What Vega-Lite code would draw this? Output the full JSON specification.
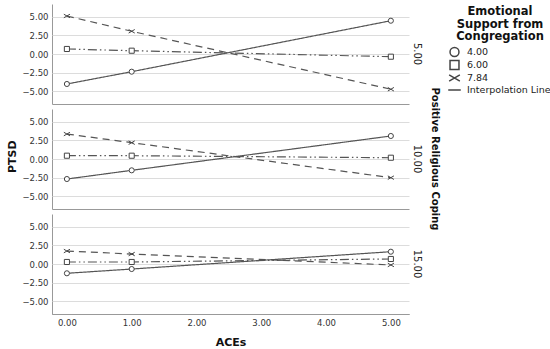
{
  "$schema": "https://vega.github.io/schema/vega-lite/v6.json",
  "padding": {"left": 6, "top": 4, "right": 0, "bottom": 0},
  "background": "white",
  "title": {"text": "PTSD", "orient": "left", "anchor": "middle", "frame": "bounds", "font": "DejaVu Sans", "fontSize": 11, "fontWeight": "bold", "color": "#111", "offset": 4, "dx": 19},
  "data": {"values": [
    {"ace": 0, "ptsd": -4.0, "support": "4.00", "prc": "5.00"},
    {"ace": 1, "ptsd": -2.36, "support": "4.00", "prc": "5.00"},
    {"ace": 5, "ptsd": 4.44, "support": "4.00", "prc": "5.00"},
    {"ace": 0, "ptsd": 0.67, "support": "6.00", "prc": "5.00"},
    {"ace": 1, "ptsd": 0.44, "support": "6.00", "prc": "5.00"},
    {"ace": 5, "ptsd": -0.36, "support": "6.00", "prc": "5.00"},
    {"ace": 0, "ptsd": 5.07, "support": "7.84", "prc": "5.00"},
    {"ace": 1, "ptsd": 3.03, "support": "7.84", "prc": "5.00"},
    {"ace": 5, "ptsd": -4.7, "support": "7.84", "prc": "5.00"},
    {"ace": 0, "ptsd": -2.67, "support": "4.00", "prc": "10.00"},
    {"ace": 1, "ptsd": -1.51, "support": "4.00", "prc": "10.00"},
    {"ace": 5, "ptsd": 3.07, "support": "4.00", "prc": "10.00"},
    {"ace": 0, "ptsd": 0.44, "support": "6.00", "prc": "10.00"},
    {"ace": 1, "ptsd": 0.44, "support": "6.00", "prc": "10.00"},
    {"ace": 5, "ptsd": 0.17, "support": "6.00", "prc": "10.00"},
    {"ace": 0, "ptsd": 3.33, "support": "7.84", "prc": "10.00"},
    {"ace": 1, "ptsd": 2.18, "support": "7.84", "prc": "10.00"},
    {"ace": 5, "ptsd": -2.49, "support": "7.84", "prc": "10.00"},
    {"ace": 0, "ptsd": -1.24, "support": "4.00", "prc": "15.00"},
    {"ace": 1, "ptsd": -0.67, "support": "4.00", "prc": "15.00"},
    {"ace": 5, "ptsd": 1.64, "support": "4.00", "prc": "15.00"},
    {"ace": 0, "ptsd": 0.27, "support": "6.00", "prc": "15.00"},
    {"ace": 1, "ptsd": 0.27, "support": "6.00", "prc": "15.00"},
    {"ace": 5, "ptsd": 0.67, "support": "6.00", "prc": "15.00"},
    {"ace": 0, "ptsd": 1.73, "support": "7.84", "prc": "15.00"},
    {"ace": 1, "ptsd": 1.33, "support": "7.84", "prc": "15.00"},
    {"ace": 5, "ptsd": -0.13, "support": "7.84", "prc": "15.00"}
  ]},
  "facet": {
    "row": {
      "field": "prc",
      "type": "ordinal",
      "sort": ["5.00", "10.00", "15.00"],
      "title": "Positive Religious Coping",
      "header": {
        "labelOrient": "right",
        "titleOrient": "right",
        "labelAngle": 90,
        "titleAngle": 90,
        "labelFont": "DejaVu Sans",
        "labelFontSize": 10,
        "labelColor": "#222",
        "labelPadding": 3,
        "titleFont": "DejaVu Sans",
        "titleFontSize": 10,
        "titleFontWeight": "bold",
        "titleColor": "#111",
        "titlePadding": -2
      }
    }
  },
  "spacing": {"row": 5},
  "spec": {
    "width": 357,
    "height": 100,
    "layer": [
      {
        "mark": {"type": "line", "color": "#555", "strokeWidth": 1.2},
        "encoding": {
          "x": {
            "field": "ace", "type": "quantitative",
            "scale": {"domain": [-0.23, 5.28], "nice": false, "zero": false},
            "axis": {"values": [0, 1, 2, 3, 4, 5], "format": ".2f", "title": "ACEs", "grid": false, "ticks": false, "labelPadding": 4, "titlePadding": 10}
          },
          "y": {
            "field": "ptsd", "type": "quantitative",
            "scale": {"domain": [-6.67, 6.67], "nice": false, "zero": false},
            "axis": {
              "values": [-6.67, -5, -2.5, 0, 2.5, 5],
              "labelExpr": "datum.value < -6 ? '' : format(datum.value, '.2f')",
              "labelOverlap": false,
              "labelSeparation": 0,
              "labelBound": false,
              "labelFlush": false,
              "title": null,
              "ticks": false,
              "grid": true,
              "gridColor": {"condition": {"test": "datum.value < -6", "value": "#999"}, "value": "#dcdcdc"}
            }
          },
          "detail": {"field": "support"},
          "strokeDash": {
            "field": "support", "type": "nominal",
            "scale": {"domain": ["4.00", "6.00", "7.84"], "range": [[1, 0], [9, 3, 1.5, 3, 1.5, 3], [7, 5]]},
            "legend": null
          }
        }
      },
      {
        "mark": {"type": "point", "filled": true, "fill": "white", "stroke": "#444", "strokeWidth": 1, "size": 26, "opacity": 1},
        "encoding": {
          "x": {"field": "ace", "type": "quantitative"},
          "y": {
            "field": "ptsd", "type": "quantitative",
            "axis": {
              "values": [-6.67, -5, -2.5, 0, 2.5, 5],
              "labelExpr": "datum.value < -6 ? '' : format(datum.value, '.2f')",
              "labelOverlap": false,
              "labelSeparation": 0,
              "labelBound": false,
              "labelFlush": false,
              "title": null,
              "ticks": false,
              "grid": true,
              "gridColor": {"condition": {"test": "datum.value < -6", "value": "#999"}, "value": "#dcdcdc"}
            }
          },
          "shape": {
            "field": "support", "type": "nominal",
            "scale": {
              "domain": ["4.00", "6.00", "7.84", "Interpolation Line"],
              "range": ["circle", "square", "M-1.2,-0.7L1.2,0.7M-1.2,0.7L1.2,-0.7", "M-1.4,0L1.4,0"]
            },
            "legend": {
              "title": ["Emotional", "Support from", "Congregation"],
              "orient": "none", "legendX": 397, "legendY": 2,
              "titleAlign": "center", "titleAnchor": "middle",
              "titleFont": "DejaVu Sans", "titleFontSize": 11.5, "titleFontWeight": "bold", "titleColor": "#111", "titleLineHeight": 12.5, "titlePadding": 4,
              "labelFont": "DejaVu Sans", "labelFontSize": 9.5, "labelColor": "#222", "labelLimit": 120,
              "symbolSize": 80, "rowPadding": -4, "labelOffset": 7,
              "encode": {"symbols": {"update": {"fill": {"value": "white"}, "stroke": {"value": "#444"}, "strokeWidth": {"value": 1}, "opacity": {"value": 1}}}}
            }
          }
        }
      }
    ]
  },
  "config": {
    "view": {"stroke": null},
    "axis": {
      "labelFont": "DejaVu Sans",
      "labelFontSize": 8.5,
      "labelColor": "#333",
      "labelOverlap": false,
      "titleFont": "DejaVu Sans",
      "titleFontSize": 11,
      "titleFontWeight": "bold",
      "titleColor": "#111",
      "domainColor": "#999",
      "labelPadding": 4
    },
    "axisY": {"labelOverlap": false}
  }
}
